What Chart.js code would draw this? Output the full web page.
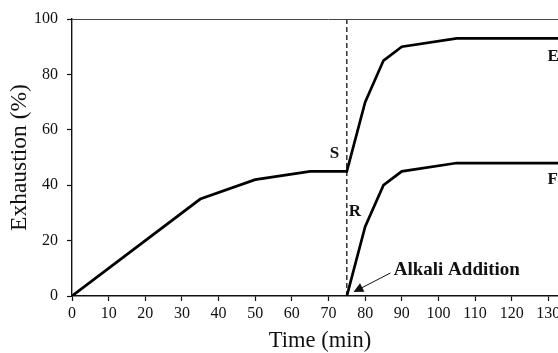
<!DOCTYPE html>
<html>
<head>
<meta charset="utf-8">
<script src="https://cdn.jsdelivr.net/npm/chart.js@4"></script>
<style>
    html, body { margin: 0; padding: 0; background: #fff; overflow: hidden; }
    #wrap { position: relative; width: 600px; height: 353px; }
</style>
</head>
<body>
<div id="wrap"><canvas id="exhaustionChart"></canvas></div>
<script>
// Exhaustion curves before and after alkali addition
const timeE = [0, 35, 50, 65, 75, 80, 85, 90, 105, 140];
const exhaustE = [0, 35, 42, 45, 45, 70, 85, 90, 93, 93];
const timeF = [75, 80, 85, 90, 105, 140];
const exhaustF = [0, 25, 40, 45, 48, 48];
const alkaliTime = 75;
const xTicks = [0, 10, 20, 30, 40, 50, 60, 70, 80, 90, 100, 110, 120, 130, 140];
const yTicks = [0, 20, 40, 60, 80, 100];

const SERIF = '"Liberation Serif", "Times New Roman", serif';
Chart.defaults.font.family = SERIF;
Chart.defaults.color = '#111';

function toPoints(xs, ys) {
    return xs.map((x, i) => ({ x: x, y: ys[i] }));
}

// Labels, arrow and the top frame line
const annotations = {
    id: 'annotations',
    afterDatasetsDraw(chart) {
        const { ctx, chartArea, scales: { x, y } } = chart;
        ctx.save();

        // top frame
        ctx.strokeStyle = '#444';
        ctx.lineWidth = 1;
        ctx.beginPath();
        ctx.moveTo(chartArea.left, chartArea.top + 0.5);
        ctx.lineTo(chartArea.right, chartArea.top + 0.5);
        ctx.stroke();

        ctx.fillStyle = '#111';
        ctx.font = 'bold 17px ' + SERIF;
        ctx.textAlign = 'center';
        ctx.textBaseline = 'middle';
        ctx.fillText('S', x.getPixelForValue(71.6), y.getPixelForValue(51.5));
        ctx.fillText('R', x.getPixelForValue(77.2), y.getPixelForValue(30.5));
        ctx.textAlign = 'left';
        ctx.fillText('E', x.getPixelForValue(129.8), y.getPixelForValue(86.3));
        ctx.fillText('F', x.getPixelForValue(129.8), y.getPixelForValue(41.9));

        ctx.font = 'bold 19px ' + SERIF;
        ctx.textBaseline = 'alphabetic';
        ctx.fillText('Alkali Addition', x.getPixelForValue(87.8), y.getPixelForValue(7.6));

        // arrow pointing at the alkali addition point
        const x0 = x.getPixelForValue(86.9), y0 = y.getPixelForValue(8.3);
        const x1 = x.getPixelForValue(76.8), y1 = y.getPixelForValue(1.4);
        const ang = Math.atan2(y1 - y0, x1 - x0);
        const head = 11;
        ctx.strokeStyle = '#111';
        ctx.lineWidth = 1;
        ctx.beginPath();
        ctx.moveTo(x0, y0);
        ctx.lineTo(x1 - Math.cos(ang) * head * 0.8, y1 - Math.sin(ang) * head * 0.8);
        ctx.stroke();
        ctx.beginPath();
        ctx.moveTo(x1, y1);
        ctx.lineTo(x1 - head * Math.cos(ang - 0.45), y1 - head * Math.sin(ang - 0.45));
        ctx.lineTo(x1 - head * Math.cos(ang + 0.45), y1 - head * Math.sin(ang + 0.45));
        ctx.closePath();
        ctx.fill();

        // x axis title
        ctx.font = '22.5px ' + SERIF;
        ctx.textAlign = 'center';
        ctx.textBaseline = 'middle';
        ctx.fillText('Time (min)', 320, 341);
        ctx.restore();
    }
};

new Chart(document.getElementById('exhaustionChart'), {
    type: 'line',
    data: {
        datasets: [{
            label: 'E',
            data: toPoints(timeE, exhaustE),
            borderColor: '#000',
            borderWidth: 2.7,
            pointRadius: 0,
            tension: 0
        }, {
            label: 'F',
            data: toPoints(timeF, exhaustF),
            borderColor: '#000',
            borderWidth: 2.7,
            pointRadius: 0,
            tension: 0
        }, {
            label: 'Alkali addition',
            data: toPoints([alkaliTime, alkaliTime], [0, 100]),
            borderColor: '#111',
            borderWidth: 1.3,
            borderDash: [5, 3],
            pointRadius: 0
        }]
    },
    options: {
        responsive: true,
        maintainAspectRatio: false,
        animation: false,
        layout: { padding: { top: 19, right: 15, left: 0, bottom: 0 } },
        plugins: {
            legend: { display: false },
            tooltip: { enabled: false }
        },
        scales: {
            x: {
                type: 'linear',
                min: 0,
                max: 140,
                afterBuildTicks: (scale) => { scale.ticks = xTicks.map(v => ({ value: v })); },
                afterFit: (scale) => { scale.height = 57; },
                ticks: { font: { size: 16 }, padding: 3, maxRotation: 0, color: '#111' },
                grid: { drawOnChartArea: false, drawTicks: true, tickLength: 5, tickColor: '#111', tickWidth: 1.2 },
                border: { color: '#111', width: 1.4 }
            },
            y: {
                min: 0,
                max: 100,
                afterBuildTicks: (scale) => { scale.ticks = yTicks.map(v => ({ value: v })); },
                afterFit: (scale) => { scale.width = 72; },
                ticks: { font: { size: 16 }, padding: 9, color: '#111' },
                grid: { drawOnChartArea: false, drawTicks: true, tickLength: 5, tickColor: '#111', tickWidth: 1.2 },
                border: { color: '#111', width: 1.4 },
                title: {
                    display: true,
                    text: 'Exhaustion (%)',
                    font: { size: 23.5 },
                    color: '#111',
                    padding: { top: 6, bottom: 0 }
                }
            }
        }
    },
    plugins: [annotations]
});
</script>
</body>
</html>
